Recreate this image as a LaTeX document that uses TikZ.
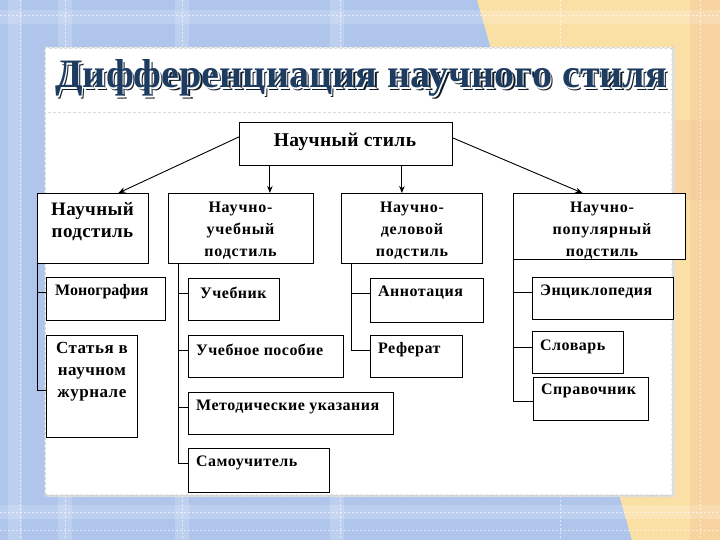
\documentclass[tikz,border=0pt]{standalone}
\usepackage{fontspec}
\setmainfont{Liberation Serif}
\usetikzlibrary{arrows.meta,decorations.pathmorphing}
\definecolor{bgblue}{HTML}{AFC5EC}
\definecolor{bgyellow}{HTML}{FBE0A6}
\definecolor{bgorange}{HTML}{F6CC9E}
\definecolor{titlenavy}{HTML}{1E3B60}
\definecolor{titleshadow}{HTML}{101B28}
\newcommand{\titletext}{\resizebox{612pt}{28pt}{\bfseries Дифференциация научного стиля}}
\begin{document}
\begin{tikzpicture}[x=1pt,y=-1pt,
  box/.style={draw=black, line width=0.8pt, fill=white, inner sep=0pt, anchor=north west},
  htext/.style={font=\bfseries\fontsize{16}{22}\selectfont\addfontfeature{LetterSpace=5}, align=center, inner sep=0pt},
  ctext/.style={font=\bfseries\fontsize{16}{22}\selectfont\addfontfeature{LetterSpace=3}, inner sep=0pt, anchor=west},
  conn/.style={draw=black, line width=0.8pt},
  arr/.style={draw=black, line width=0.9pt, -{Stealth[length=7pt,width=5.5pt]}},
  band/.style={fill=white, opacity=0.18},
  wdash/.style={draw=white, opacity=0.6, line width=1pt, dash pattern=on 2pt off 2pt}]
\useasboundingbox (0,0) rectangle (720,540);
% background plaid
\fill[bgblue] (0,0) rectangle (720,540);
\fill[bgyellow] (477,0) -- (720,0) -- (720,540) -- (632,540) -- cycle;
\fill[bgorange, opacity=0.6] (690,0) rectangle (720,540);
\fill[bgorange, opacity=0.5] (600,120) rectangle (720,200);
\foreach \x in {8,58,175,330} {\fill[band] (\x,0) rectangle ++(14,540);}
\foreach \y in {10,505} {\fill[band] (0,\y) rectangle ++(720,14);}
\foreach \x in {20,65,182,340,560,700} {\draw[wdash] (\x,0) -- (\x,540);}
\foreach \y in {16,512,530} {\draw[wdash] (0,\y) -- (720,\y);}
% panel
\fill[gray!25] (47,49) rectangle (675,497);
\fill[white] (45,47) rectangle (673,495);
\draw[gray!35, line width=0.8pt, decorate, decoration={snake, amplitude=0.7pt, segment length=5pt}] (45,47) rectangle (673,495);
\draw[gray!30, line width=0.8pt, dash pattern=on 3pt off 2pt] (48,112) -- (670,112);
% title
\node[anchor=base west, inner sep=0pt, text=titleshadow] (titleS) at (57.5,90.5) {\titletext};
\node[anchor=base west, inner sep=0pt, text=white] (titleW) at (56.2,89.2) {\titletext};
\node[anchor=base west, inner sep=0pt, text=titlenavy] (title) at (55,88) {\titletext};
% root
\node[box, minimum width=213pt, minimum height=43pt] (root) at (239,122) {};
\node[htext, font=\bfseries\fontsize{19.5}{22}\selectfont\addfontfeature{LetterSpace=2}] (roott) at (345,142) {Научный стиль};
% headings
\node[box, minimum width=111pt, minimum height=70pt] (h1) at (37,193) {};
\node[htext, font=\bfseries\fontsize{19}{22}\selectfont\addfontfeature{LetterSpace=2}] (h1t) at (92.5,222) {Научный\\подстиль};
\node[box, minimum width=145pt, minimum height=70pt] (h2) at (168,193) {};
\node[htext] (h2t) at (240.5,231) {Научно-\\учебный\\подстиль};
\node[box, minimum width=141pt, minimum height=70pt] (h3) at (341,193) {};
\node[htext] (h3t) at (412,231) {Научно-\\деловой\\подстиль};
\node[box, minimum width=172pt, minimum height=66pt] (h4) at (513,193) {};
\node[htext] (h4t) at (602,231) {Научно-\\популярный\\подстиль};
% arrows
\draw[arr] ([yshift=7pt]root.west) -- ([xshift=25.5pt]h1.north);
\draw[arr] ([xshift=-76pt]root.south) -- ([xshift=-76pt]root.south |- h2.north);
\draw[arr] ([xshift=56pt]root.south) -- ([xshift=56pt]root.south |- h3.north);
\draw[arr] ([yshift=6pt]root.east) -- ([xshift=-17pt]h4.north);
% column 1
\node[box, minimum width=119pt, minimum height=43pt] (c11) at (46,277) {};
\node[ctext, font=\bfseries\fontsize{16}{22}\selectfont] (c11t) at ([xshift=9pt,yshift=-15pt]c11.north west) {Монография};
\node[box, minimum width=91pt, minimum height=102pt] (c12) at (46,335) {};
\node[htext, font=\bfseries\fontsize{17}{22}\selectfont\addfontfeature{LetterSpace=3}, anchor=north] (c12t) at ([yshift=-7pt]c12.north) {Статья в\\научном\\журнале};
\draw[conn] (h1.south west) |- ([yshift=-55pt]c12.north west);
\draw[conn] (h1.south west |- c11t) -- ([yshift=-15pt]c11.north west);
% column 2
\node[box, minimum width=91pt, minimum height=42pt] (c21) at (188,278) {};
\node[ctext] (c21t) at ([xshift=12pt,yshift=-15pt]c21.north west) {Учебник};
\node[box, minimum width=155pt, minimum height=42pt] (c22) at (188,335) {};
\node[ctext] (c22t) at ([xshift=8pt,yshift=-15pt]c22.north west) {Учебное пособие};
\node[box, minimum width=205pt, minimum height=42pt] (c23) at (188,392) {};
\node[ctext] (c23t) at ([xshift=8pt,yshift=-15pt]c23.north west) {Методические указания};
\node[box, minimum width=141pt, minimum height=44pt] (c24) at (188,448) {};
\node[ctext] (c24t) at ([xshift=8pt,yshift=-15pt]c24.north west) {Самоучитель};
\coordinate (v2) at (178,263);
\draw[conn] (v2) |- ([yshift=-15pt]c24.north west);
\foreach \n in {c21,c22,c23} {\draw[conn] (v2 |- \n t) -- ([yshift=-15pt]\n.north west);}
% column 3
\node[box, minimum width=113pt, minimum height=44pt] (c31) at (370,278) {};
\node[ctext] (c31t) at ([xshift=8pt,yshift=-15pt]c31.north west) {Аннотация};
\node[box, minimum width=92pt, minimum height=42pt] (c32) at (370,335) {};
\node[ctext] (c32t) at ([xshift=8pt,yshift=-15pt]c32.north west) {Реферат};
\coordinate (v3) at (351,263);
\draw[conn] (v3) |- ([yshift=-15pt]c32.north west);
\draw[conn] (v3 |- c31t) -- ([yshift=-15pt]c31.north west);
% column 4
\node[box, minimum width=141pt, minimum height=42pt] (c41) at (532,277) {};
\node[ctext] (c41t) at ([xshift=8pt,yshift=-15pt]c41.north west) {Энциклопедия};
\node[box, minimum width=91pt, minimum height=42pt] (c42) at (532,331) {};
\node[ctext] (c42t) at ([xshift=8pt,yshift=-16pt]c42.north west) {Словарь};
\node[box, minimum width=115pt, minimum height=43pt] (c43) at (533,377) {};
\node[ctext] (c43t) at ([xshift=8pt,yshift=-14pt]c43.north west) {Справочник};
\draw[conn] (h4.south west) |- ([yshift=-24pt]c43.north west);
\draw[conn] (h4.south west |- c41t) -- ([yshift=-15pt]c41.north west);
\draw[conn] (h4.south west |- c42t) -- ([yshift=-16pt]c42.north west);
\end{tikzpicture}
\end{document}
